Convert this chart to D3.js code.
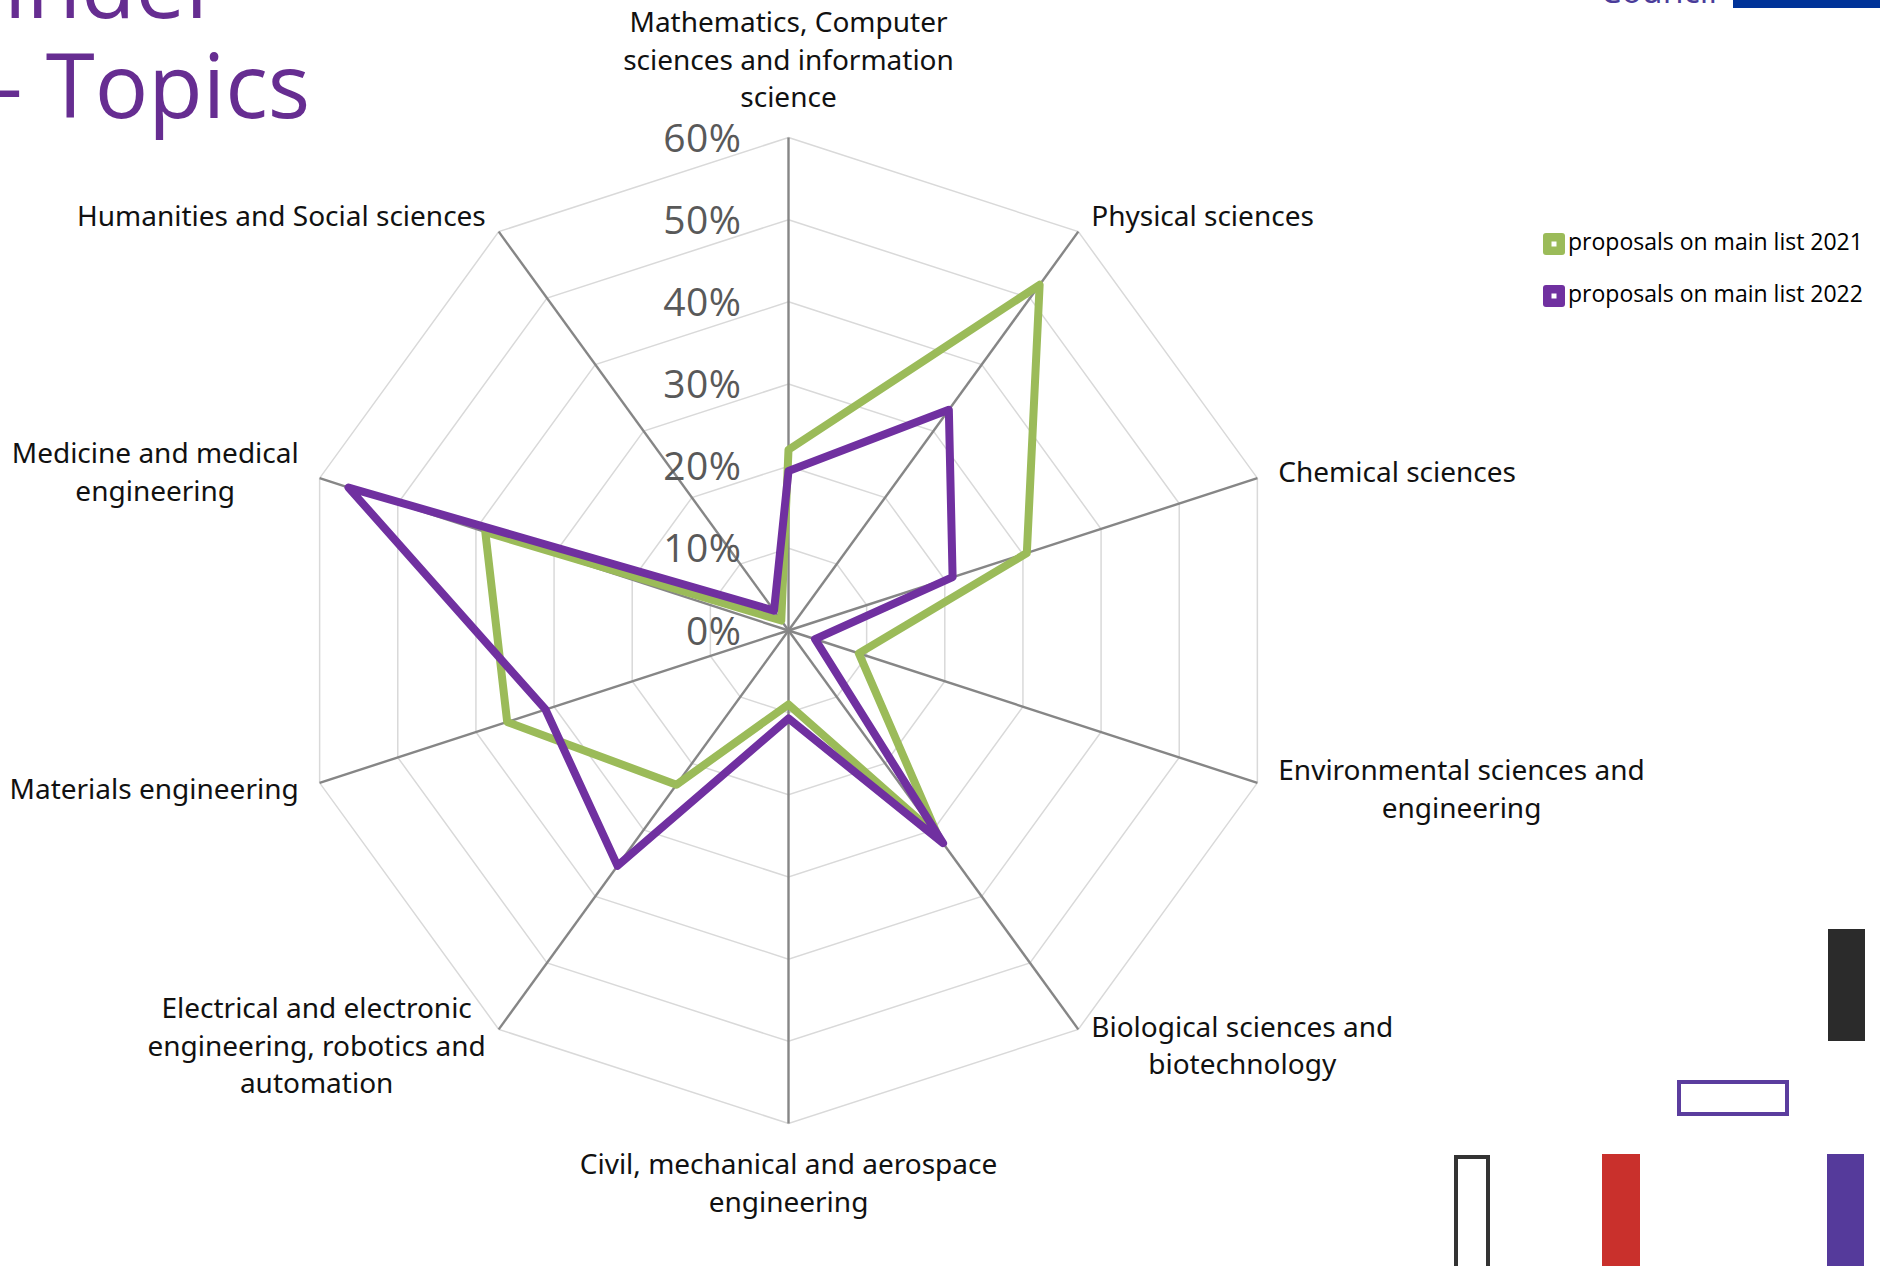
<!DOCTYPE html>
<html>
<head>
<meta charset="utf-8">
<script src="https://cdn.jsdelivr.net/npm/d3@7"></script>
<style>
  html, body { margin: 0; padding: 0; background: #ffffff; overflow: hidden; }
  svg { display: block; }
</style>
</head>
<body>
<svg id="chart" width="1880" height="1266"></svg>
<script>
// ---------------- DATA ----------------
const categories = [
  "Mathematics, Computer\nsciences and information\nscience",
  "Physical sciences",
  "Chemical sciences",
  "Environmental sciences and\nengineering",
  "Biological sciences and\nbiotechnology",
  "Civil, mechanical and aerospace\nengineering",
  "Electrical and electronic\nengineering, robotics and\nautomation",
  "Materials engineering",
  "Medicine and medical\nengineering",
  "Humanities and Social sciences"
];
const seriesNames = ["proposals on main list 2021", "proposals on main list 2022"];
const values2021 = [22, 52, 30.5, 9, 31, 9, 23.2, 36, 38.8, 1.5];
const values2022 = [19.4, 33.2, 21, 3.4, 32, 10.7, 35.4, 31.1, 56.3, 3];
const tickValues = [0, 10, 20, 30, 40, 50, 60];
const tickLabels = ["0%", "10%", "20%", "30%", "40%", "50%", "60%"];
const seriesColors = ["#9bbb59", "#7030a0"];

// ---------------- LAYOUT ----------------
const svg = d3.select("#chart");
const cx = 788.5, cy = 630.5, R = 493;
const n = categories.length;

const rScale = d3.scaleLinear().domain([0, 60]).range([0, R]);
const aScale = d3.scaleLinear().domain([0, n]).range([0, 2 * Math.PI]);

const g = svg.append("g").attr("transform", `translate(${cx},${cy})`);

// Grid rings
const ringLine = d3.lineRadial()
  .angle((d, i) => aScale(i))
  .radius(d => rScale(d))
  .curve(d3.curveLinearClosed);

g.append("g").selectAll("path")
  .data(tickValues.filter(t => t > 0))
  .join("path")
  .attr("d", t => ringLine(d3.range(n).map(() => t)))
  .attr("fill", "none")
  .attr("stroke", "#d9d9d9")
  .attr("stroke-width", 1.5);

// Spokes
g.append("g").selectAll("line")
  .data(d3.range(n))
  .join("line")
  .attr("x1", 0).attr("y1", 0)
  .attr("x2", i => rScale(60) * Math.sin(aScale(i)))
  .attr("y2", i => -rScale(60) * Math.cos(aScale(i)))
  .attr("stroke", "#868686")
  .attr("stroke-width", 2.4);

// Tick labels
g.append("g").selectAll("text")
  .data(tickValues)
  .join("text")
  .attr("x", -47)
  .attr("y", t => -rScale(t) + 14)
  .attr("text-anchor", "end")
  .attr("font-family", "'Open Sans', 'Noto Sans', sans-serif")
  .attr("font-size", 39)
  .attr("letter-spacing", 0.5)
  .attr("fill", "#595959")
  .text((t, i) => tickLabels[i]);

// Series
const seriesLine = d3.lineRadial()
  .angle((d, i) => aScale(i))
  .radius(d => rScale(d))
  .curve(d3.curveLinearClosed);

[values2021, values2022].forEach((vals, si) => {
  g.append("path")
    .attr("d", seriesLine(vals))
    .attr("fill", "none")
    .attr("stroke", seriesColors[si])
    .attr("stroke-width", 8)
    .attr("stroke-linejoin", "round");
});

// Category labels
const fs = 28, lh = 37.5;
const labG = g.append("g")
  .attr("font-family", "'Noto Sans', 'Open Sans', sans-serif")
  .attr("font-size", fs)
  .attr("fill", "#111111");

categories.forEach((c, i) => {
  const a = aScale(i), s = Math.sin(a), co = Math.cos(a);
  const ex = rScale(60) * s, ey = -rScale(60) * co;
  const lines = c.split("\n");
  const t = labG.append("text").attr("text-anchor", "middle");
  const spans = lines.map(l => t.append("tspan").text(l));
  const widths = spans.map(sp => sp.node().getComputedTextLength());
  const maxW = d3.max(widths);
  let bx, baselines;
  if (Math.abs(s) < 0.1) {
    bx = ex;
    if (co > 0) {
      const last = ey - 30.5;
      baselines = lines.map((l, j) => last - (lines.length - 1 - j) * lh);
    } else {
      const first = ey + 50.5;
      baselines = lines.map((l, j) => first + j * lh);
    }
  } else {
    const edge = ex + 22 * s;
    bx = edge + Math.sign(s) * maxW / 2;
    const centerY = ey - 20 * co;
    baselines = lines.map((l, j) => centerY + (j - (lines.length - 1) / 2) * lh + 0.36 * fs);
  }
  spans.forEach((sp, j) => sp.attr("x", bx).attr("y", baselines[j]));
});

// Legend
const legend = svg.append("g").attr("transform", "translate(1543,233)");
seriesNames.forEach((name, i) => {
  const item = legend.append("g").attr("transform", `translate(0,${i * 52})`);
  item.append("rect").attr("width", 22).attr("height", 22).attr("rx", 3)
    .attr("fill", seriesColors[i]);
  item.append("rect").attr("x", 8.5).attr("y", 8.5).attr("width", 5).attr("height", 5)
    .attr("fill", "#ffffff");
  item.append("text").attr("x", 25).attr("y", 17)
    .attr("font-family", "'Open Sans', 'Noto Sans', sans-serif")
    .attr("font-size", 23)
    .attr("fill", "#000000")
    .text(name);
});

// Slide decorations (title fragments and corner shapes)
svg.append("text").attr("x", 4).attr("y", 18)
  .attr("font-family", "'Open Sans', sans-serif").attr("font-size", 89)
  .attr("fill", "#662d91").text("inder");
svg.append("text").attr("x", -6).attr("y", 118)
  .attr("font-family", "'Open Sans', sans-serif").attr("font-size", 89)
  .attr("fill", "#662d91").text("- Topics");
svg.append("text").attr("x", 1600).attr("y", 3)
  .attr("font-family", "'Open Sans', sans-serif").attr("font-size", 34)
  .attr("fill", "#4b3c9a").text("Council");
svg.append("rect").attr("x", 1733).attr("y", 0).attr("width", 147).attr("height", 8).attr("fill", "#003399");

svg.append("rect").attr("x", 1828).attr("y", 929).attr("width", 37).attr("height", 112).attr("fill", "#2b2b2b");
svg.append("rect").attr("x", 1679).attr("y", 1082).attr("width", 108).attr("height", 32)
  .attr("fill", "none").attr("stroke", "#5b3d9e").attr("stroke-width", 4);
svg.append("rect").attr("x", 1456).attr("y", 1157).attr("width", 32).attr("height", 120)
  .attr("fill", "none").attr("stroke", "#333333").attr("stroke-width", 4);
svg.append("rect").attr("x", 1602).attr("y", 1154).attr("width", 38).attr("height", 112).attr("fill", "#c9302c");
svg.append("rect").attr("x", 1827).attr("y", 1154).attr("width", 37).attr("height", 112).attr("fill", "#553a9b");
</script>
</body>
</html>
